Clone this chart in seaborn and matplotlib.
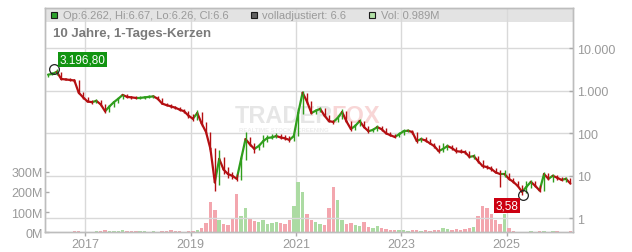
import numpy as np
import pandas as pd
import matplotlib
matplotlib.use("Agg")
import matplotlib.pyplot as plt
import seaborn as sns
from matplotlib.patches import Rectangle

# ---------------- data ----------------
months = pd.period_range("2016-04", "2026-03", freq="M")
close = [
    2400, 2500, 2800, 1900, 1850, 1800, 1750, 900, 700,
    560, 540, 580, 480, 330, 430, 540, 650, 800, 720, 700, 680,
    680, 700, 720, 740, 650, 500, 460, 430, 400, 360, 330, 260,
    220, 300, 170, 107, 43, 7, 25, 14, 11, 10, 8.5, 25,
    73, 55, 43, 50, 65, 78, 80, 86, 80, 76, 70, 86,
    300, 900, 560, 300, 340, 375, 260, 194, 185, 230, 318, 190,
    126, 150, 194, 140, 112, 120, 140, 125, 100, 90, 82, 95,
    112, 115, 107, 66, 73, 68, 58, 50, 38, 43, 50, 45,
    38, 37, 36, 28, 29, 22, 17, 16, 14.5, 12, 11, 11,
    8.5, 7.2, 5.8, 4.2, 5.5, 7.2, 5.8, 4.5, 11, 8.5, 10, 9,
    8, 8.5, 6.6,
]
high = [
    2500, 2700, 3196.8, 2800, 2000, 1950, 1900, 1750, 950,
    720, 620, 640, 600, 500, 450, 560, 680, 850, 820, 760, 740,
    740, 760, 780, 800, 760, 660, 520, 480, 450, 420, 380, 340,
    280, 360, 310, 180, 110, 45, 40, 28, 16, 12, 11, 30,
    110, 80, 60, 55, 90, 90, 95, 100, 95, 90, 85, 95,
    400, 1000, 900, 580, 380, 420, 390, 270, 210, 250, 380, 330,
    200, 165, 220, 200, 150, 135, 160, 150, 130, 105, 95, 105,
    125, 125, 120, 110, 80, 80, 72, 60, 52, 58, 55, 52,
    47, 42, 40, 38, 33, 30, 23, 18, 17, 15, 14, 14,
    11.5, 9, 7.5, 6, 7.5, 8, 7.5, 6, 12.5, 11.5, 11, 10.5,
    9.5, 9.5, 8.8,
]
low = [
    2150, 2300, 2400, 1800, 1750, 1700, 1650, 850, 650,
    540, 500, 520, 450, 300, 320, 420, 520, 630, 680, 650, 640,
    630, 640, 660, 690, 620, 480, 430, 400, 370, 330, 300, 230,
    190, 210, 150, 95, 38, 4.4, 6, 11, 9, 8.5, 7.5, 8,
    24, 50, 35, 40, 48, 62, 72, 78, 74, 70, 62, 66,
    85, 290, 500, 280, 290, 320, 240, 180, 170, 180, 220, 180,
    115, 120, 145, 130, 100, 105, 115, 115, 95, 85, 78, 80,
    92, 105, 98, 60, 62, 64, 55, 46, 35, 37, 40, 40,
    35, 34, 33, 26, 25, 20, 15.5, 14.5, 13, 11.5, 5.5, 9.5,
    8, 6.8, 5.4, 3.58, 4, 5.2, 5.4, 4.1, 4.4, 8, 7, 8,
    7.5, 7.2, 6.3,
]
first_open = 2200
volume_m = [
    2, 2, 3, 2, 2, 2, 4, 6, 3,
    3, 3, 4, 8, 10, 6, 5, 4, 12, 8, 6, 5,
    5, 4, 3, 4, 3, 5, 6, 10, 6, 4, 3, 5,
    6, 12, 20, 45, 150, 110, 60, 40, 35, 70, 190, 80,
    120, 70, 55, 50, 60, 40, 45, 50, 45, 40, 60, 130,
    250, 200, 90, 60, 50, 40, 35, 120, 225, 160, 60, 40,
    45, 35, 30, 50, 25, 20, 30, 20, 15, 12, 12, 10,
    10, 8, 10, 12, 8, 10, 8, 10, 12, 20, 15, 12,
    15, 12, 15, 20, 25, 80, 130, 120, 90, 60, 40, 90,
    20, 4, 3, 3, 3, 4, 3, 5, 4, 3, 4, 4,
    3, 3, 4,
]
year_ticks = [2017, 2019, 2021, 2023, 2025]
price_ticks = [1, 10, 100, 1000, 10000]
price_labels = ["1", "10", "100", "1.000", "10.000"]
vol_ticks = [0, 100, 200, 300]
vol_labels = ["0M", "100M", "200M", "300M"]
peak_value, peak_time = 3196.80, 2016.41
low_value, low_time = 3.58, 2025.30
header_items = [("Op:6.262, Hi:6.67, Lo:6.26, Cl:6.6", "#2ca02c"),
                ("volladjustiert: 6.6", "#606060"),
                ("Vol: 0.989M", "#b2e0a6")]
title = "10 Jahre, 1-Tages-Kerzen"

# ---------------- style ----------------
sns.set_theme(style="white")
plt.rcParams["font.family"] = ["Liberation Sans", "DejaVu Sans"]
GREEN, RED = "#2f9e1c", "#b40f12"
VGREEN, VRED = "#acdba3", "#f3a6ae"
GRID = "#d9d9d9"
TXT = "#9a9a9a"
W, H = 632, 253

t = np.array([p.year + (p.month - 0.5) / 12 for p in months])
close = np.array(close, dtype=float)
high = np.array(high, dtype=float)
low = np.array(low, dtype=float)
opens = np.concatenate([[first_open], close[:-1]])
up = close >= opens

fig = plt.figure(figsize=(W / 100, H / 100), dpi=100)
L, R, B, T = 45.3, 572.7, 233.3, 9.3
ax_v = fig.add_axes([L / W, 1 - B / H, (R - L) / W, (B - T) / H])
ax_v.set_facecolor("white")

# header strip
ax_v.add_patch(Rectangle((0, 1 - 13.4 / (B - T)), 1, 13.4 / (B - T),
                         transform=ax_v.transAxes, facecolor="#e3e3e3",
                         edgecolor="none", zorder=0.1))

# volume bars
ax_v.bar(t, volume_m, width=0.065, color=np.where(up, VGREEN, VRED),
         linewidth=0, zorder=1)
ax_v.set_xlim(2016.24, 2026.253)
ax_v.set_ylim(0, (B - T) / (60.6 / 300))
ax_v.set_xticks(year_ticks)
ax_v.set_xticklabels([str(y) for y in year_ticks])
ax_v.set_yticks(vol_ticks)
ax_v.set_yticklabels(vol_labels)
ax_v.set_axisbelow(True)
ax_v.grid(axis="x", color=GRID, linewidth=1)
ax_v.grid(axis="y", visible=False)
ax_v.tick_params(axis="y", direction="in", length=3, width=1, color="#aaaaaa",
                 labelsize=9, labelcolor=TXT, pad=2, left=True)
ax_v.tick_params(axis="x", direction="out", length=3, width=1, color="#aaaaaa",
                 labelsize=9, labelcolor=TXT, pad=1, bottom=True)
for s in ax_v.spines.values():
    s.set_color("#bdbdbd")
    s.set_linewidth(1)

# price axis
ax_p = ax_v.twinx()
ax_p.set_yscale("log")
ax_p.set_ylim(10 ** ((219.3 - B) / 42.5), 10 ** ((219.3 - T) / 42.5))

rows = []
for i in range(1, len(t)):
    d = "up" if close[i] >= close[i - 1] else "down"
    rows.append((i, d, t[i - 1], close[i - 1]))
    rows.append((i, d, t[i], close[i]))
seg = pd.DataFrame(rows, columns=["seg", "dir", "t", "price"])
sns.lineplot(data=seg, x="t", y="price", hue="dir", units="seg", estimator=None,
             palette={"up": GREEN, "down": RED}, linewidth=1.6, legend=False,
             ax=ax_p, zorder=3)
# wicks (monthly high/low)
ax_p.vlines(t, low, high, colors=np.where(up, GREEN, RED), linewidth=1.0, zorder=3)

ax_p.set_xlim(2016.24, 2026.253)
ax_p.set_xlabel("")
ax_p.set_ylabel("")
ax_v.set_xlabel("")
ax_p.set_yticks(price_ticks)
ax_p.set_yticklabels(price_labels)
ax_p.yaxis.set_minor_locator(matplotlib.ticker.NullLocator())
ax_p.grid(axis="y", which="major", color=GRID, linewidth=1, zorder=0)
ax_p.grid(axis="x", visible=False)
ax_p.set_axisbelow(True)
ax_p.tick_params(axis="y", direction="in", length=3, width=1, color="#aaaaaa",
                 labelsize=9, labelcolor=TXT, pad=3, right=True)
for s in ax_p.spines.values():
    s.set_color("#bdbdbd")
    s.set_linewidth(1)

# watermark
ax_p.text(235 / W, 1 - 117 / H, "TRADER", transform=fig.transFigure, fontsize=17,
          fontweight="bold", color="#e6e6e6", va="center", ha="left", zorder=0.5)
ax_p.text(331.5 / W, 1 - 117 / H, "FOX", transform=fig.transFigure, fontsize=17,
          fontweight="bold", color="#f8d6d6", va="center", ha="left", zorder=0.5)
ax_p.text(239 / W, 1 - 130 / H, "REALTIME STOCK SCREENING", transform=fig.transFigure,
          fontsize=4.3, fontweight="bold", color="#ececec", va="center", ha="left",
          zorder=0.5)

# peak / low markers
def de_fmt(v):
    return f"{v:,.2f}".replace(",", "X").replace(".", ",").replace("X", ".")

ax_p.plot([peak_time], [peak_value], marker="o", ms=7, mfc="none", mec="#222222",
          mew=0.9, zorder=5)
ax_p.annotate(de_fmt(peak_value), xy=(peak_time, peak_value), xytext=(5, 10),
              textcoords="offset pixels", ha="left", va="center", color="white",
              fontsize=8.5, zorder=6,
              bbox=dict(boxstyle="square,pad=0.12", fc="#119411", ec="none"))
ax_p.plot([low_time], [low_value], marker="o", ms=7, mfc="none", mec="#222222",
          mew=0.9, zorder=5)
ax_p.annotate(de_fmt(low_value), xy=(low_time, low_value), xytext=(-4, -11),
              textcoords="offset pixels", ha="right", va="center", color="white",
              fontsize=8.5, zorder=6,
              bbox=dict(boxstyle="square,pad=0.12", fc="#cc0011", ec="none"))

# header legend
xs_sq = [51, 250.7, 369]
xs_tx = [62.7, 262, 381]
for (txt, col), xq, xt in zip(header_items, xs_sq, xs_tx):
    fig.patches.append(Rectangle((xq / W, 1 - 18.5 / H), 6 / W, 6 / H,
                                 transform=fig.transFigure, facecolor=col,
                                 edgecolor="#1a1a1a", linewidth=0.8))
    fig.text(xt / W, 1 - 15.7 / H, txt, fontsize=8, color="#9a9a9a",
             va="center", ha="left")
fig.text(53.3 / W, 1 - 34 / H, title, fontsize=9.5, fontweight="bold",
         color="#7a7a7a", va="center", ha="left")

fig.savefig("out.png", dpi=100)
